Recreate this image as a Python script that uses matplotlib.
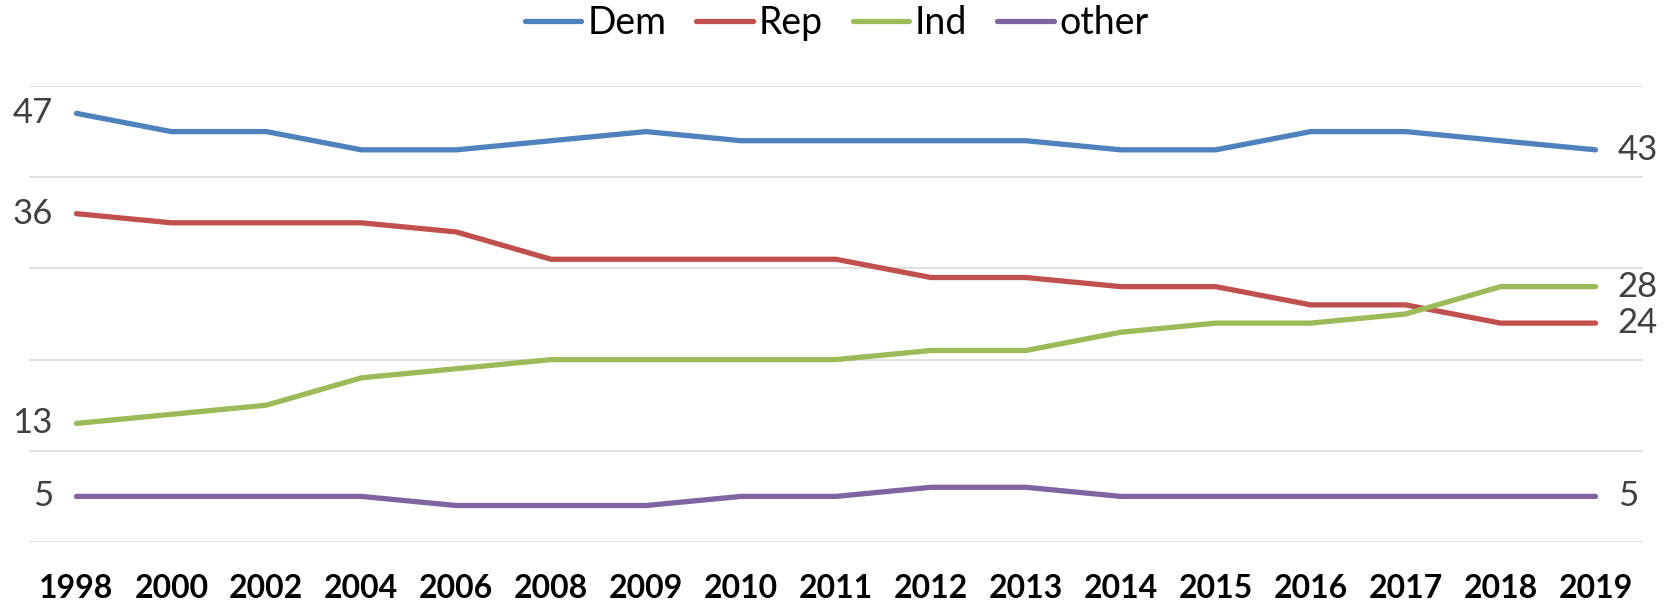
import matplotlib
matplotlib.use("Agg")
import matplotlib.pyplot as plt

years = ["1998", "2000", "2002", "2004", "2006", "2008", "2009", "2010", "2011",
         "2012", "2013", "2014", "2015", "2016", "2017", "2018", "2019"]
dem = [47, 45, 45, 43, 43, 44, 45, 44, 44, 44, 44, 43, 43, 45, 45, 44, 43]
rep = [36, 35, 35, 35, 34, 31, 31, 31, 31, 29, 29, 28, 28, 26, 26, 24, 24]
ind = [13, 14, 15, 18, 19, 20, 20, 20, 20, 21, 21, 23, 24, 24, 25, 28, 28]
other = [5, 5, 5, 5, 4, 4, 4, 5, 5, 6, 6, 5, 5, 5, 5, 5, 5]
series_names = ["Dem", "Rep", "Ind", "other"]
colors = ["#4F81BD", "#C0504D", "#9BBB59", "#8064A2"]

plt.rcParams['font.family'] = ['Lato', 'DejaVu Sans']

W, H = 1674, 605
fig = plt.figure(figsize=(W / 100, H / 100), dpi=100)
ax = fig.add_axes([29 / W, 1 - 542 / H, (1643 - 29) / W, (542 - 86) / H])

x = list(range(len(years)))
all_series = [dem, rep, ind, other]
handles = []
for vals, name, c in zip(all_series, series_names, colors):
    h, = ax.plot(x, vals, color=c, lw=3.8, solid_capstyle='round',
                 solid_joinstyle='round', label=name, zorder=3)
    handles.append(h)

# end labels
for vals in all_series:
    ax.annotate(str(vals[0]), xy=(x[0], vals[0]), xytext=(-17, 0),
                textcoords='offset points', ha='right', va='center',
                fontsize=25, color='#404040')
    ax.annotate(str(vals[-1]), xy=(x[-1], vals[-1]), xytext=(16, 0),
                textcoords='offset points', ha='left', va='center',
                fontsize=25, color='#404040')

ax.set_ylim(0, 50)
ax.set_xlim(-0.5, 16.5)
ax.set_yticks(range(0, 51, 10))
ax.set_yticklabels([])
ax.tick_params(axis='y', length=0)
ax.grid(axis='y', color='#D9D9D9', lw=1.1, zorder=0)
ax.set_xticks(x)
ax.set_xticklabels(years, fontsize=23, fontweight='bold', color='black')
ax.tick_params(axis='x', length=0, pad=23)
for s in ax.spines.values():
    s.set_visible(False)

fig.legend(handles=handles, labels=series_names, loc='center',
           bbox_to_anchor=(0.5, 1 - 23 / H), ncol=4, frameon=False,
           fontsize=27, handlelength=1.5, handletextpad=0.16,
           columnspacing=0.8)

fig.savefig("out.png", dpi=100)
